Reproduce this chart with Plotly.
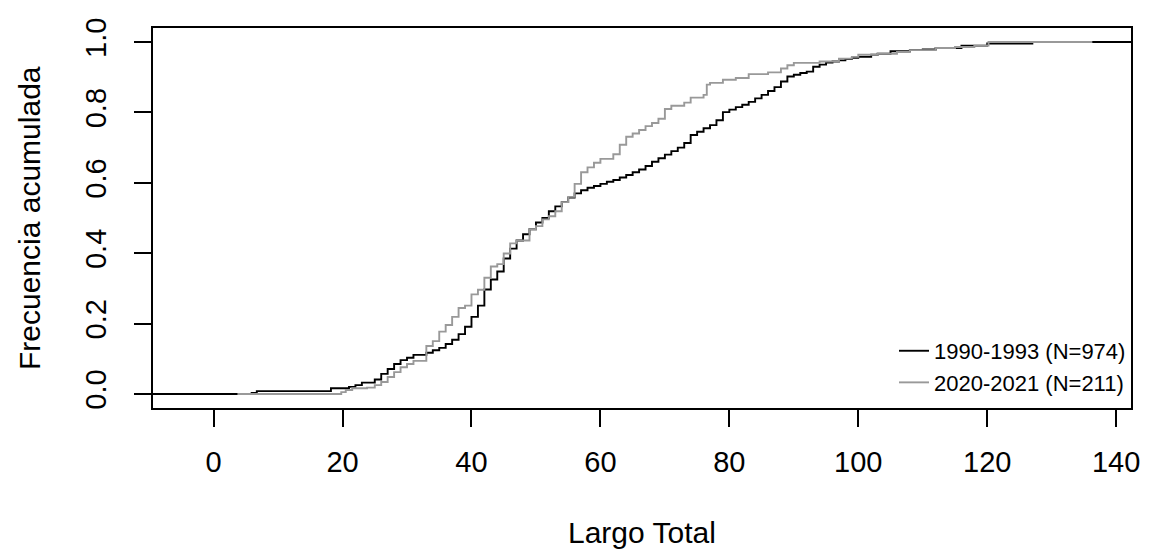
import plotly.graph_objects as go

# ---- data (length in cm, cumulative frequency) ----
black_name = "1990-1993 (N=974)"
black_len = [5.9, 6.7, 18.2, 21, 22, 23, 25, 26, 27, 28, 29, 30, 31, 33, 34, 35, 36, 37, 38, 39,
             40, 41, 42, 43, 44, 45, 46, 47, 48, 49, 50, 51, 52, 53, 54, 55, 56, 57, 58, 59,
             60, 61, 62, 63, 64, 65, 66, 67, 68, 69, 70, 71, 72, 73, 74, 75, 76, 77, 78, 79,
             80, 81, 82, 83, 84, 85, 86, 87, 88, 89, 90, 91, 92, 93, 94, 95, 96, 97, 98, 99,
             100, 102, 103, 105, 108, 110, 112, 116, 120, 127]
black_cum = [0.003, 0.008, 0.016, 0.020, 0.025, 0.032, 0.041, 0.057, 0.071, 0.085, 0.096, 0.103, 0.111, 0.117, 0.124, 0.131, 0.142, 0.154, 0.170, 0.191,
             0.219, 0.251, 0.297, 0.325, 0.348, 0.385, 0.413, 0.436, 0.454, 0.468, 0.487, 0.500, 0.519, 0.533, 0.545, 0.558, 0.570, 0.579, 0.586, 0.591,
             0.597, 0.603, 0.608, 0.615, 0.622, 0.630, 0.638, 0.648, 0.660, 0.670, 0.680, 0.690, 0.700, 0.713, 0.736, 0.745, 0.755, 0.764, 0.778, 0.801,
             0.808, 0.815, 0.822, 0.830, 0.840, 0.850, 0.861, 0.872, 0.888, 0.902, 0.907, 0.912, 0.916, 0.930, 0.936, 0.942, 0.945, 0.948, 0.952, 0.955,
             0.958, 0.964, 0.967, 0.974, 0.977, 0.979, 0.983, 0.990, 0.996, 1.000]

gray_name = "2020-2021 (N=211)"
gray_len = [19.8, 20.5, 21.5, 23.8, 25, 26, 27, 28, 29, 30, 31, 33, 34, 35, 36, 37, 38, 39,
            40, 41, 42, 43, 44, 45, 46, 47, 49, 50, 51, 52, 53, 54, 55, 56, 57, 58, 59,
            60, 62, 63, 64, 65, 66, 67, 68, 69, 70, 71, 73, 74, 76, 76.5, 77, 79,
            81, 83, 86, 88, 89, 90, 94, 97, 99, 100, 103, 106, 108, 112, 115, 118, 120.2]
gray_cum = [0.005, 0.011, 0.016, 0.018, 0.025, 0.034, 0.048, 0.062, 0.076, 0.085, 0.094, 0.136, 0.150, 0.177, 0.196, 0.219, 0.244, 0.251,
            0.283, 0.296, 0.330, 0.362, 0.369, 0.399, 0.428, 0.436, 0.468, 0.477, 0.496, 0.505, 0.519, 0.545, 0.560, 0.597, 0.630, 0.644, 0.657,
            0.668, 0.681, 0.708, 0.731, 0.740, 0.750, 0.761, 0.770, 0.782, 0.810, 0.819, 0.828, 0.842, 0.850, 0.879, 0.884, 0.893,
            0.898, 0.909, 0.914, 0.925, 0.934, 0.941, 0.945, 0.953, 0.958, 0.964, 0.967, 0.972, 0.977, 0.983, 0.986, 0.990, 1.000]

# horizontal extent of each step function (as drawn by R's plot.ecdf)
black_from, black_to = -14.0, 146.0
gray_from, gray_to = 3.7, 136.3

x_ticks = [0, 20, 40, 60, 80, 100, 120, 140]
y_ticks = [0.0, 0.2, 0.4, 0.6, 0.8, 1.0]
y_ticktext = ["0.0", "0.2", "0.4", "0.6", "0.8", "1.0"]
x_title = "Largo Total"
y_title = "Frecuencia acumulada"

FONT = "Liberation Sans, Arial, Helvetica, sans-serif"
INK = "#000000"


def steps(start, stop, xs, ys):
    return [start] + list(xs) + [stop], [0.0] + list(ys) + [ys[-1]]


fig = go.Figure()
bx, by = steps(black_from, black_to, black_len, black_cum)
gx, gy = steps(gray_from, gray_to, gray_len, gray_cum)
fig.add_trace(go.Scatter(x=bx, y=by, mode="lines", line=dict(shape="hv", color="#000000", width=1.9),
                         name=black_name))
fig.add_trace(go.Scatter(x=gx, y=gy, mode="lines", line=dict(shape="hv", color="#999999", width=1.9),
                         name=gray_name))

axis_common = dict(showline=True, mirror=True, linecolor=INK, linewidth=1.9,
                   ticks="outside", ticklen=17, tickwidth=1.9, tickcolor=INK,
                   showgrid=False, zeroline=False,
                   tickfont=dict(family=FONT, size=29, color=INK))

fig.update_xaxes(range=[-9.4, 142.3], tickvals=x_ticks, ticktext=[str(v) for v in x_ticks],
                 ticklabelstandoff=10, **axis_common)
fig.update_yaxes(range=[-0.04, 1.04], tickvals=y_ticks, ticktext=y_ticktext, tickangle=-90,
                 ticklabelstandoff=16, **axis_common)

fig.update_layout(
    # the page body has an 8px margin, so the figure is 8px smaller than the window
    width=1142, height=548,
    margin=dict(l=145, r=15, t=10, b=148),
    paper_bgcolor="white", plot_bgcolor="white",
    showlegend=True,
    legend=dict(x=1.0, y=0.108, xanchor="right", yanchor="middle",
                bgcolor="rgba(0,0,0,0)", borderwidth=0,
                font=dict(family=FONT, size=22, color=INK),
                tracegroupgap=0),
    annotations=[
        dict(text=x_title, xref="paper", yref="paper", x=0.5, y=0, xanchor="center",
             yanchor="middle", yshift=-124, showarrow=False,
             font=dict(family=FONT, size=30, color=INK)),
        dict(text=y_title, xref="paper", yref="paper", x=0, y=0.5, xanchor="center",
             yanchor="middle", xshift=-124, textangle=-90, showarrow=False,
             font=dict(family=FONT, size=30, color=INK)),
    ],
)

fig.write_html("out.html")
